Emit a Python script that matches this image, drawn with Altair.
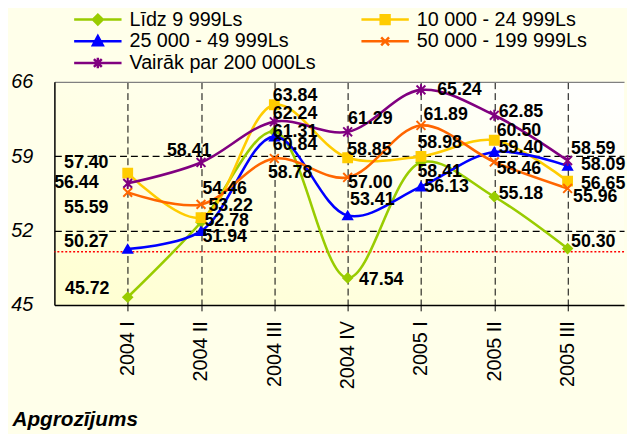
import altair as alt
import pandas as pd

categories = ["2004 I", "2004 II", "2004 III", "2004 IV", "2005 I", "2005 II", "2005 III"]
series_names = ["Līdz 9 999Ls", "10 000 - 24 999Ls", "25 000 - 49 999Ls",
                "50 000 - 199 999Ls", "Vairāk par 200 000Ls"]
lidz_9999 = [45.72, 52.78, 61.31, 47.54, 58.41, 55.18, 50.30]
s_10000_24999 = [57.40, 53.22, 63.84, 58.85, 58.98, 60.50, 56.65]
s_25000_49999 = [50.27, 51.94, 60.84, 53.41, 56.13, 59.40, 58.09]
s_50000_199999 = [55.59, 54.46, 58.78, 57.00, 61.89, 58.46, 55.96]
virs_200000 = [56.44, 58.41, 62.24, 61.29, 65.24, 62.85, 58.59]
values = [lidz_9999, s_10000_24999, s_25000_49999, s_50000_199999, virs_200000]
reference_level = 50.0
y_ticks = [45, 52, 59, 66]

# styling
colors = ["#99CC00", "#FFCC00", "#0000FF", "#FF6600", "#800080"]
marker_shapes = ["diamond", "square", "triangle-up",
                 "M-1,-1L1,1M-1,1L1,-1",
                 "M-1,-1L1,1M-1,1L1,-1M0,-1.25V1.25"]
legend_paths = [
    "M-4.8,0H4.8M-1,0L0,-1L1,0L0,1Z",
    "M-4.8,0H4.8M-0.9,-0.9H0.9V0.9H-0.9Z",
    "M-4.8,0H4.8M0,-1.05L1,0.8L-1,0.8Z",
    "M-4.8,0H4.8M-0.8,-0.8L0.8,0.8M-0.8,0.8L0.8,-0.8",
    "M-4.8,0H4.8M-0.8,-0.8L0.8,0.8M-0.8,0.8L0.8,-0.8M0,-1.05V1.05",
]
# label offsets in pixels (dx, dy) per series and category
label_dx = [
    [-41, 26, 21, 34, 19, 27, 26],
    [-42, 30, 21, 22, 19, 25, 36],
    [-42, 24, 21, 25, 26, 27, 36],
    [-42, 24, 16, 23, 25, 25, 28],
    [-52, -12, 21, 23, 39, 27, 26],
]
label_dy = [
    [-8, -1, 0, 2, 10, -3, -7],
    [-10, -12, -9, -8, -13, -9, 3],
    [-7, 6, 9, -16, 0, -4, -1],
    [16, -16, 15, 6, -11, 7, 9],
    [0, -12, -8, -13, 0, -3, -12],
]

W, H = 577, 226
x_dom = [-1, 6.77]
y_dom = [45, 66]
px_x = W / (x_dom[1] - x_dom[0])
px_y = H / (y_dom[1] - y_dom[0])

rows = []
for s, name in enumerate(series_names):
    for i, cat in enumerate(categories):
        v = values[s][i]
        rows.append({
            "idx": i, "cat": cat, "series": name, "value": v,
            "lx": i + label_dx[s][i] / px_x,
            "ly": v - label_dy[s][i] / px_y,
            "label": f"{v:.2f}",
        })
df = pd.DataFrame(rows)

FONT = "Liberation Sans"
cat_js = "[" + ",".join(f"'{c}'" for c in categories) + "]"
names_js = "[" + ",".join(f"'{n}'" for n in series_names) + "]"
paths_js = "[" + ",".join(f"'{p}'" for p in legend_paths) + "]"
shape_signal = f"{paths_js}[indexof({names_js}, datum.value)]"

color_scale = alt.Scale(domain=series_names, range=colors)

x_enc = alt.X("idx:Q", scale=alt.Scale(domain=x_dom, nice=False, zero=False),
              axis=alt.Axis(values=list(range(len(categories))),
                            labelExpr=f"{cat_js}[datum.value]",
                            labelAngle=270, labelFontSize=20, labelFont=FONT,
                            labelColor="black", labelPadding=10, labelAlign="right",
                            labelBaseline="middle",
                            tickSize=6, tickColor="black", domainColor="black",
                            domainWidth=1.5,
                            grid=True, gridColor="black", gridDash=[7, 4], gridWidth=1,
                            title="Apgrozījums", titleFont=FONT, titleFontSize=21,
                            titleFontStyle="italic", titleFontWeight="bold",
                            titleColor="black", titleAngle=0, titleAlign="left",
                            titleBaseline="alphabetic", titleX=-43, titleY=122))
y_enc = alt.Y("value:Q", scale=alt.Scale(domain=y_dom, nice=False, zero=False),
              axis=alt.Axis(values=y_ticks, labelFontSize=20, labelFont=FONT,
                            labelFontStyle="italic", labelColor="black",
                            labelPadding=22, ticks=False, domainColor="black",
                            domainWidth=1.5,
                            grid=True,
                            gridColor=alt.condition("datum.value == 66", alt.value("#808080"), alt.value("black")),
                            gridDash=alt.condition("datum.value == 66", alt.value([1, 0]), alt.value([7, 4])),
                            gridWidth=alt.condition("datum.value == 45", alt.value(0), alt.value(1.3)),
                            title=None))

base = alt.Chart(df)

lines = base.mark_line(interpolate="catmull-rom", strokeWidth=2.6).encode(
    x=x_enc, y=y_enc,
    color=alt.Color("series:N", scale=color_scale, sort=series_names,
                    legend=alt.Legend(
                        orient="none", legendX=34, legendY=-73, columns=2,
                        direction="horizontal",
                        columnPadding=41, rowPadding=1, padding=0, title=None,
                        symbolSize=100, symbolStrokeWidth=2.5, labelFont=FONT,
                        labelFontSize=20, labelColor="black", labelOffset=22,
                        labelLimit=0,
                        symbolType={"expr": shape_signal},
                        symbolFillColor={"expr": "scale('color', datum.value)"},
                        symbolStrokeColor={"expr": "scale('color', datum.value)"},
                        symbolOpacity=1)),
    detail="series:N",
)

point_layers = []
for s, name in enumerate(series_names):
    point_layers.append(
        base.transform_filter(alt.datum.series == name)
        .mark_point(filled=True, shape=marker_shapes[s], size=80, strokeWidth=2,
                    opacity=1, color=colors[s], stroke=colors[s])
        .encode(x="idx:Q", y="value:Q")
    )

ref = alt.Chart(pd.DataFrame({"value": [reference_level]})).mark_rule(
    color="red", strokeDash=[2, 2], strokeWidth=1.5).encode(y="value:Q")

labels = base.mark_text(font=FONT, fontSize=18, fontWeight="bold", color="black",
                        align="center", baseline="middle").encode(
    x="lx:Q", y="ly:Q", text="label:N")

gradient_expr = ("{gradient: 'linear', x1: 0, y1: 1, x2: 1, y2: 0, "
                 "stops: [{offset: 0, color: '#FFFFD0'}, {offset: 1, color: '#FFFFFF'}]}")

chart = alt.layer(ref, lines, *point_layers, labels).properties(
    width=W, height=H,
    autosize=alt.AutoSizeParams(type="none"),
    padding={"left": 47, "top": 72, "right": 3, "bottom": 128},
    background="#FFFFEA",
).configure_view(
    stroke=None,
    fill={"expr": gradient_expr},
)

chart.save("out.html", embed_options={"renderer": "svg", "actions": False})
